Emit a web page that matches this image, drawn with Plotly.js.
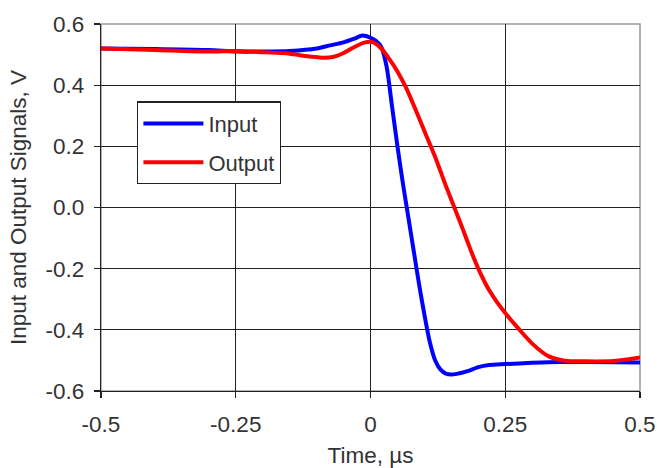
<!DOCTYPE html>
<html>
<head>
<meta charset="utf-8">
<script src="https://cdn.plot.ly/plotly-3.0.1.min.js"></script>
<style>
  html, body { margin: 0; padding: 0; background: #fff; }
  #chart { width: 657px; height: 468px; }
</style>
</head>
<body>
<div id="chart"></div>
<script>
// Input signal (blue)
const inputTime = [-0.5, -0.4, -0.3, -0.25, -0.2, -0.15, -0.1, -0.075, -0.05, -0.03, -0.015, 0, 0.01, 0.02, 0.03, 0.04, 0.05, 0.06, 0.07, 0.08, 0.09, 0.1, 0.11, 0.12, 0.13, 0.14, 0.15, 0.16, 0.18, 0.2, 0.22, 0.25, 0.3, 0.35, 0.4, 0.5];
const inputVolts = [0.52, 0.518, 0.515, 0.51, 0.51, 0.512, 0.52, 0.53, 0.54, 0.552, 0.562, 0.555, 0.545, 0.525, 0.46, 0.33, 0.2, 0.08, -0.03, -0.14, -0.25, -0.35, -0.44, -0.5, -0.53, -0.543, -0.546, -0.544, -0.535, -0.522, -0.515, -0.512, -0.508, -0.505, -0.505, -0.507];

// Output signal (red)
const outputTime = [-0.5, -0.4, -0.3, -0.25, -0.2, -0.15, -0.12, -0.09, -0.07, -0.05, -0.03, -0.01, 0.005, 0.02, 0.035, 0.05, 0.065, 0.08, 0.1, 0.12, 0.14, 0.16, 0.17, 0.18, 0.19, 0.2, 0.21, 0.22, 0.235, 0.25, 0.275, 0.3, 0.33, 0.36, 0.4, 0.45, 0.5];
const outputVolts = [0.52, 0.515, 0.51, 0.512, 0.508, 0.503, 0.495, 0.49, 0.492, 0.505, 0.525, 0.54, 0.54, 0.52, 0.485, 0.445, 0.395, 0.335, 0.25, 0.165, 0.07, -0.02, -0.065, -0.112, -0.158, -0.2, -0.237, -0.27, -0.31, -0.345, -0.397, -0.445, -0.486, -0.501, -0.503, -0.502, -0.49];

const seriesNames = ["Input", "Output"];
const xTickVals = [-0.5, -0.25, 0, 0.25, 0.5];
const xTickText = ["-0.5", "-0.25", "0", "0.25", "0.5"];
const yTickVals = [-0.6, -0.4, -0.2, 0.0, 0.2, 0.4, 0.6];
const yTickText = ["-0.6", "-0.4", "-0.2", "0.0", "0.2", "0.4", "0.6"];

const FONT = "Liberation Sans, Arial, sans-serif";
const TXT = "#333";
const FS = 22.5;

const traces = [
  { x: inputTime, y: inputVolts, name: seriesNames[0], mode: "lines", legendgroup: "a",
    line: { color: "#0000ff", width: 4, shape: "spline", smoothing: 0.7 } },
  { x: outputTime, y: outputVolts, name: seriesNames[1], mode: "lines", legendgroup: "b",
    line: { color: "#ff0000", width: 4, shape: "spline", smoothing: 0.7 } }
];

const layout = {
  width: 657, height: 468,
  margin: { l: 101, r: 17, t: 23.5, b: 77, pad: 0 },
  paper_bgcolor: "#fff", plot_bgcolor: "#fff",
  font: { family: FONT, size: FS, color: TXT },
  showlegend: true,
  legend: {
    x: 0.067, y: 0.789, xanchor: "left", yanchor: "top",
    bgcolor: "#fff", bordercolor: "#222", borderwidth: 1.3,
    font: { family: FONT, size: 22, color: TXT },
    itemwidth: 60, tracegroupgap: 7
  },
  xaxis: {
    range: [-0.5, 0.5], tickvals: xTickVals, ticktext: xTickText,
    showgrid: true, gridcolor: "#222", gridwidth: 1.3,
    zeroline: false, showline: true, linecolor: "#222", linewidth: 1.3,
    ticks: "outside", ticklen: 6, tickcolor: "#222", tickwidth: 1.3,
    ticklabelstandoff: 7,
    tickfont: { family: FONT, size: FS, color: TXT },
    title: { text: "Time, µs", font: { family: FONT, size: FS, color: TXT }, standoff: 12 },
    fixedrange: true
  },
  yaxis: {
    range: [-0.6, 0.6], tickvals: yTickVals, ticktext: yTickText,
    showgrid: true, gridcolor: "#222", gridwidth: 1.3,
    zeroline: false, showline: true, linecolor: "#222", linewidth: 1.3,
    ticks: "outside", ticklen: 6, tickcolor: "#222", tickwidth: 1.3,
    ticklabelstandoff: 5,
    tickfont: { family: FONT, size: FS, color: TXT },
    title: { text: "Input and Output Signals, V", font: { family: FONT, size: FS, color: TXT }, standoff: 12 },
    fixedrange: true
  },
  shapes: [
    { type: "rect", xref: "paper", yref: "paper", x0: 0, x1: 1, y0: 0, y1: 1,
      line: { color: "#999", width: 1.5 }, layer: "below" }
  ]
};

Plotly.newPlot("chart", traces, layout, { displayModeBar: false, staticPlot: true });
</script>
</body>
</html>
